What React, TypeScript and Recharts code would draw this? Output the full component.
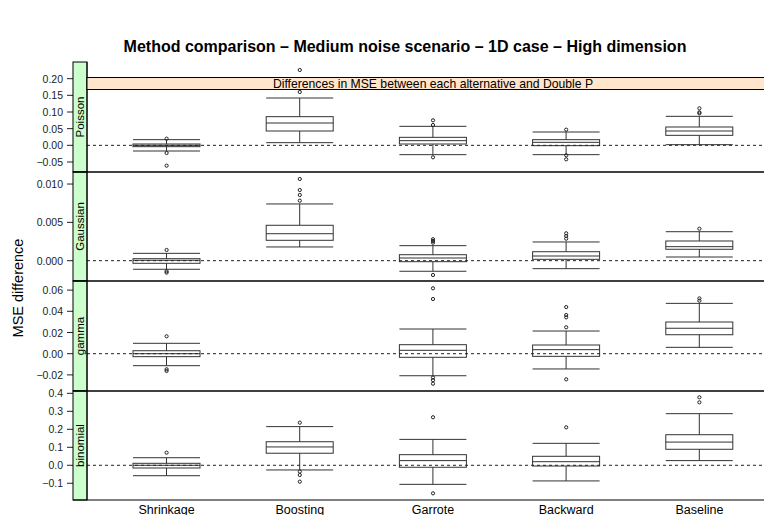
import { ComposedChart, Bar, Scatter, XAxis, YAxis, ReferenceLine } from 'recharts';

const methods = ['Shrinkage', 'Boosting', 'Garrote', 'Backward', 'Baseline'];
const families = ['Poisson', 'Gaussian', 'gamma', 'binomial'];

// [lower whisker, Q1, median, Q3, upper whisker] per method (null = not fitted)
const poissonBoxes = [
  [-0.017, -0.004, 0.0, 0.004, 0.017],
  [0.008, 0.043, 0.067, 0.086, 0.142],
  [-0.028, 0.004, 0.014, 0.024, 0.057],
  [-0.028, -0.001, 0.009, 0.017, 0.04],
  [0.002, 0.03, 0.043, 0.055, 0.087],
];
const gaussianBoxes = [
  [-0.00112, -0.00034, 0.00005, 0.00026, 0.00096],
  [0.00179, 0.00266, 0.00352, 0.00462, 0.0074],
  [-0.00138, -0.00013, 0.00035, 0.00078, 0.00196],
  [-0.00104, 0.00018, 0.00061, 0.00117, 0.00244],
  [0.00048, 0.00149, 0.00183, 0.00257, 0.00378],
];
const gammaBoxes = [
  [-0.0113, -0.0028, 0.0, 0.0028, 0.0098],
  null,
  [-0.0208, -0.0034, 0.0032, 0.0085, 0.0233],
  [-0.0144, -0.0025, 0.0038, 0.0082, 0.0214],
  [0.006, 0.0179, 0.024, 0.0299, 0.0475],
];
const binomialBoxes = [
  [-0.058, -0.015, 0.0, 0.011, 0.042],
  [-0.026, 0.067, 0.102, 0.131, 0.215],
  [-0.106, -0.011, 0.026, 0.059, 0.144],
  [-0.087, -0.004, 0.02, 0.05, 0.122],
  [0.026, 0.089, 0.129, 0.17, 0.287],
];

// outlying points per method
const poissonOutliers = [
  [0.02, -0.023, -0.061],
  [0.226, 0.189, 0.177, 0.17, 0.16],
  [0.075, 0.061, -0.036],
  [0.047, -0.03, -0.042],
  [0.111, 0.099, 0.096],
];
const gaussianOutliers = [
  [0.0014, -0.00138, -0.00156],
  [0.01066, 0.00922, 0.00857, 0.00783],
  [0.0028, 0.00257, 0.00235, -0.00187],
  [0.00357, 0.00322, 0.00287],
  [0.00417],
];
const gammaOutliers = [
  [0.0164, -0.0147, -0.0163],
  [],
  [0.0617, 0.0516, -0.0225, -0.025, -0.0283],
  [0.044, 0.0365, 0.0343, 0.0249, -0.0242],
  [0.0522, 0.05],
];
const binomialOutliers = [
  [0.07],
  [0.237, -0.035, -0.054, -0.091],
  [0.267, -0.156],
  [0.211],
  [0.378, 0.35],
];

const poissonTicks = [-0.05, 0, 0.05, 0.1, 0.15, 0.2];
const gaussianTicks = [0, 0.005, 0.01];
const gammaTicks = [-0.02, 0, 0.02, 0.04, 0.06];
const binomialTicks = [-0.1, 0, 0.1, 0.2, 0.3, 0.4];

const INK = '#222';
const FONT = '"Liberation Sans", Arial, Helvetica, sans-serif';
const PAD = 10; // extra room above/below each panel so tick labels are not clipped

const panels = [
  { name: families[0], boxes: poissonBoxes, outliers: poissonOutliers, ticks: poissonTicks, digits: 2, domain: [-0.08, 0.25], top: 62, h: 110 },
  { name: families[1], boxes: gaussianBoxes, outliers: gaussianOutliers, ticks: gaussianTicks, digits: 3, domain: [-0.00265, 0.01157], top: 172, h: 109 },
  { name: families[2], boxes: gammaBoxes, outliers: gammaOutliers, ticks: gammaTicks, digits: 2, domain: [-0.0352, 0.0686], top: 281, h: 110 },
  { name: families[3], boxes: binomialBoxes, outliers: binomialOutliers, ticks: binomialTicks, digits: 1, domain: [-0.193, 0.413], top: 391, h: 109 },
];

const makeTick = (digits: number) => (props: any) => {
  const { y, payload } = props;
  const label = Number(payload.value).toFixed(digits).replace('-', '\u2212');
  return (
    <g>
      <line x1={67} x2={73} y1={y} y2={y} stroke={INK} />
      <text x={63} y={y} textAnchor="end" dominantBaseline="central" fontSize={10.5} fontFamily={FONT} fill={INK}>
        {label}
      </text>
    </g>
  );
};

const BoxShape = (props: any) => {
  const { x, y, width, height, payload } = props;
  const s = payload?.stats;
  if (!s || !height) return <g />;
  const top = Math.min(y, y + height);
  const bottom = Math.max(y, y + height);
  const px = (v: number) => bottom - ((v - s[0]) / (s[4] - s[0])) * (bottom - top);
  const cx = x + width / 2;
  return (
    <g stroke="#333" strokeWidth={1} fill="none">
      <line x1={cx} x2={cx} y1={px(s[4])} y2={px(s[3])} />
      <line x1={cx} x2={cx} y1={px(s[1])} y2={px(s[0])} />
      <line x1={x} x2={x + width} y1={px(s[4])} y2={px(s[4])} />
      <line x1={x} x2={x + width} y1={px(s[0])} y2={px(s[0])} />
      <rect x={x} y={px(s[3])} width={width} height={px(s[1]) - px(s[3])} />
      <line x1={x} x2={x + width} y1={px(s[2])} y2={px(s[2])} />
    </g>
  );
};

const OutlierDot = (props: any) => {
  const { cx, cy } = props;
  if (cx == null || cy == null) return <g />;
  return <circle cx={cx} cy={cy} r={1.6} fill="none" stroke={INK} strokeWidth={1} />;
};

function Panel({ p }: { p: (typeof panels)[number] }) {
  const data = methods.map((m, i) => ({ method: m, stats: p.boxes[i] }));
  const points = p.outliers.flatMap((vals, i) => vals.map((v) => ({ method: methods[i], out: v })));
  return (
    <div style={{ position: 'absolute', left: 0, top: p.top - PAD }}>
      <ComposedChart
        width={779}
        height={p.h + 2 * PAD}
        data={data}
        margin={{ top: PAD, right: 0, bottom: PAD, left: 0 }}
      >
        <XAxis dataKey="method" type="category" allowDuplicatedCategory={false} hide padding={{ left: 13, right: 13 }} />
        <YAxis
          type="number"
          width={87}
          domain={p.domain}
          ticks={p.ticks}
          allowDataOverflow
          axisLine={false}
          tickLine={false}
          tick={makeTick(p.digits)}
          interval={0}
        />
        <ReferenceLine y={0} stroke={INK} strokeDasharray="3 3" />
        <Bar
          dataKey={(d: any) => (d.stats ? [d.stats[0], d.stats[4]] : null)}
          barSize={67}
          shape={<BoxShape />}
          isAnimationActive={false}
        />
        <Scatter data={points} dataKey="out" shape={<OutlierDot />} isAnimationActive={false} />
      </ComposedChart>
    </div>
  );
}

export default function App() {
  return (
    <div style={{ position: 'absolute', left: 0, top: 0, width: 764, height: 515, overflow: 'hidden', background: '#fff', fontFamily: FONT }}>
      {panels.map((p) => (
        <Panel key={p.name} p={p} />
      ))}
      <svg width={764} height={515} style={{ position: 'absolute', left: 0, top: 0, pointerEvents: 'none' }}>
        <text x={405} y={52} textAnchor="middle" fontSize={16} fontWeight="bold" fill="#000" fontFamily={FONT}>
          Method comparison – Medium noise scenario – 1D case – High dimension
        </text>
        <text transform="translate(23,288) rotate(-90)" textAnchor="middle" fontSize={14.5} fill="#000" fontFamily={FONT}>
          MSE difference
        </text>
        {panels.map((p) => (
          <g key={p.name}>
            <rect x={73} y={p.top} width={14} height={p.h} fill="#ccffcc" stroke="#000" />
            <text
              transform={`translate(84,${p.top + p.h / 2}) rotate(-90)`}
              textAnchor="middle"
              fontSize={11.5}
              fill="#000"
              fontFamily={FONT}
            >
              {p.name}
            </text>
            {p.top > 62 && <line x1={73} x2={779} y1={p.top} y2={p.top} stroke="#000" strokeWidth={1.6} />}
            <line x1={87} x2={87} y1={p.top} y2={p.top + p.h} stroke="#000" />
          </g>
        ))}
        <line x1={73} x2={779} y1={500} y2={500} stroke="#000" />
        <rect x={87} y={77.5} width={700} height={12} fill="#ffe5cc" stroke="#000" />
        <text x={433} y={87.5} textAnchor="middle" fontSize={12.2} fill="#000" fontFamily={FONT}>
          Differences in MSE between each alternative and Double P
        </text>
        {methods.map((m, i) => (
          <text key={m} x={166.6 + i * 133.2} y={514} textAnchor="middle" fontSize={12.5} fill="#000" fontFamily={FONT}>
            {m}
          </text>
        ))}
      </svg>
    </div>
  );
}
